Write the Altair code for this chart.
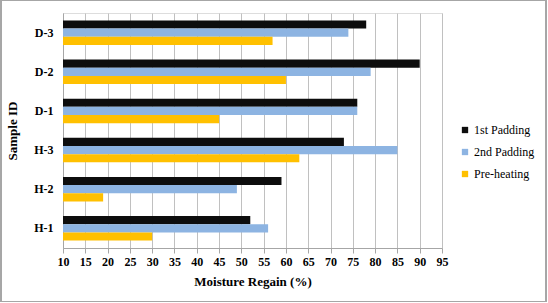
import altair as alt
import pandas as pd

samples = ["D-3", "D-2", "D-1", "H-3", "H-2", "H-1"]
series = ["1st Padding", "2nd Padding", "Pre-heating"]
first_padding = [78, 90, 76, 73, 59, 52]
second_padding = [74, 79, 76, 85, 49, 56]
pre_heating = [57, 60, 45, 63, 19, 30]
colors = ["#0d0d0d", "#8db4e2", "#ffc000"]
x_ticks = list(range(10, 100, 5))

rows = []
for i, s in enumerate(samples):
    for name, vals in zip(series, [first_padding, second_padding, pre_heating]):
        rows.append({"Sample": s, "Series": name, "Value": vals[i]})
df = pd.DataFrame(rows)

FONT = "Liberation Serif"

bars = alt.Chart(df).mark_bar(stroke=None).encode(
    y=alt.Y("Sample:N", sort=samples,
            scale=alt.Scale(paddingInner=0.375, paddingOuter=0.19),
            axis=alt.Axis(title="Sample ID", ticks=False, labelPadding=10,
                          labelFontWeight="bold", labelFontSize=12, labelFont=FONT,
                          titleFont=FONT, titleFontSize=13, titleFontWeight="bold",
                          titlePadding=14, domainColor="#a6a6a6", labelColor="black",
                          titleColor="black")),
    yOffset=alt.YOffset("Series:N", sort=series,
                        scale=alt.Scale(paddingInner=0, paddingOuter=0)),
    x=alt.X("Value:Q", scale=alt.Scale(domain=[10, 95], zero=False, nice=False),
            axis=alt.Axis(title="Moisture Regain (%)", values=x_ticks, grid=True,
                          gridColor="#c0c0c0", tickColor="#a6a6a6", tickSize=5,
                          domainColor="#a6a6a6", labelFontWeight="bold",
                          labelFontSize=12, labelFont=FONT, labelPadding=3,
                          labelFlush=False, labelOverlap=False,
                          labelColor="black", titleFont=FONT, titleFontSize=13,
                          titleFontWeight="bold", titlePadding=8, titleColor="black")),
    x2=alt.datum(10),
    color=alt.Color("Series:N", sort=series,
                    scale=alt.Scale(domain=series, range=colors),
                    legend=alt.Legend(title=None, orient="none", legendX=396, legendY=111,
                                      symbolType="square", symbolSize=40,
                                      symbolStrokeWidth=0, labelFont=FONT,
                                      labelFontSize=12, labelColor="black",
                                      rowPadding=10, labelOffset=3)),
)

frame = alt.Chart(df).mark_rect(fill=None, stroke="#a6a6a6", strokeWidth=1).encode(
    x=alt.value(-62), x2=alt.value(483), y=alt.value(-12.5), y2=alt.value(288.5)
)

chart = alt.layer(frame, bars).properties(
    width=379, height=235,
    autosize=alt.AutoSizeParams(type="none"),
    padding={"left": 63, "top": 13, "right": 106, "bottom": 55},
).configure_view(stroke=None).configure(background="white")

chart.save("out.html", embed_options={"renderer": "svg", "actions": False})
